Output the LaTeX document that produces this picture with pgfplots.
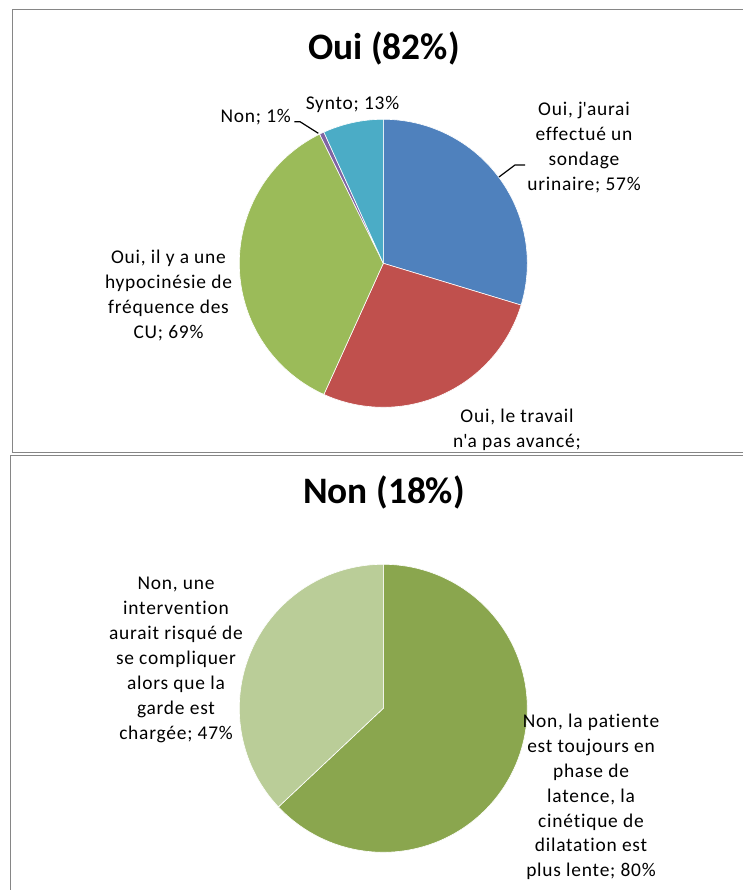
\documentclass[border=0pt]{standalone}
\usepackage{pgfplots}
\pgfplotsset{compat=1.18}
\usepackage{fontspec}
\setmainfont{Carlito}[Ligatures={NoCommon}]
\newfontfamily\lblfont{Carlito}[Ligatures={NoCommon}, LetterSpace=4]
\definecolor{cblue}{HTML}{4F81BD}
\definecolor{cred}{HTML}{C0504D}
\definecolor{cgreen}{HTML}{9BBB59}
\definecolor{cpurple}{HTML}{8064A2}
\definecolor{cteal}{HTML}{4BACC6}
\definecolor{cdkgreen}{HTML}{8AA64E}
\definecolor{cltgreen}{HTML}{BACD98}
\definecolor{bordergray}{RGB}{134,134,134}

% values (percent of respondents)
\def\VBlue{57}\def\VRed{52}\def\VGreen{69}\def\VPurple{1}\def\VTeal{13}
\def\VDark{80}\def\VLight{47}

% \slice{color}{cum start}{cum end}{total}
\newcommand{\slice}[4]{%
  \pgfmathsetmacro{\sa}{90-((#3)/(#4))*360}%
  \pgfmathsetmacro{\sb}{90-((#2)/(#4))*360}%
  \edef\doslice{\noexpand\addplot[fill=#1, draw=white, line width=0.6bp, domain=\sa:\sb, samples=120, variable=\noexpand\t] ({cos(\noexpand\t)},{sin(\noexpand\t)}) -- (0,0) -- cycle;}%
  \doslice
}
\newcommand{\lbl}{\lblfont\fontsize{19.5}{25}\selectfont}
\newcommand{\ttl}{\fontsize{37.5}{40}\selectfont\bfseries}

\begin{document}
\begin{tikzpicture}[x=1bp,y=1bp]
\useasboundingbox (0,0) rectangle (743,890);
\fill[white] (0,0) rectangle (743,890);
\begin{scope}
\clip (0,0) rectangle (743,890);
\draw[bordergray, line width=1bp] (800,437.5) -- (12.5,437.5) -- (12.5,880.7) -- (800,880.7);
\draw[bordergray, line width=1bp] (800,434.3) -- (10.5,434.3) -- (10.5,-10);
\end{scope}

% ---- top pie ----
\pgfmathsetmacro{\TotA}{\VBlue+\VRed+\VGreen+\VPurple+\VTeal}
\begin{axis}[at={(383.3bp,626.7bp)}, anchor=center, width=288bp, height=288bp,
  scale only axis, xmin=-1, xmax=1, ymin=-1, ymax=1, hide axis, clip=false]
\slice{cblue}{0}{\VBlue}{\TotA}
\slice{cred}{\VBlue}{\VBlue+\VRed}{\TotA}
\slice{cgreen}{\VBlue+\VRed}{\VBlue+\VRed+\VGreen}{\TotA}
\slice{cpurple}{\VBlue+\VRed+\VGreen}{\VBlue+\VRed+\VGreen+\VPurple}{\TotA}
\slice{cteal}{\VBlue+\VRed+\VGreen+\VPurple}{\TotA}{\TotA}
\end{axis}

\node[anchor=base, font=\ttl] at (384,830) {Oui (82\%)};
\node[align=center, font=\lbl] at (584,742.5) {Oui, j\textquotesingle aurai\\effectué un\\sondage\\urinaire; 57\%};
\node[align=center, font=\lbl] at (517,460) {Oui, le travail\\n\textquotesingle a pas avancé;};
\node[align=center, font=\lbl] at (168.5,594.5) {Oui, il y a une\\hypocinésie de\\fréquence des\\CU; 69\%};
\node[anchor=east, font=\lbl, inner sep=0pt] at (291,773) {Non; 1\%};
\node[font=\lbl] at (352.5,786) {Synto; 13\%};
\draw[black, line width=1.2bp] (499,713) -- (515,725) -- (525,725);
\draw[black, line width=1.2bp] (294.3,768.3) -- (300,768.3) -- (318.3,756.7);

% ---- bottom pie ----
\pgfmathsetmacro{\TotB}{\VDark+\VLight}
\begin{axis}[at={(383.3bp,181.7bp)}, anchor=center, width=288bp, height=288bp,
  scale only axis, xmin=-1, xmax=1, ymin=-1, ymax=1, hide axis, clip=false]
\slice{cdkgreen}{0}{\VDark}{\TotB}
\slice{cltgreen}{\VDark}{\TotB}{\TotB}
\end{axis}

\node[anchor=base, font=\ttl] at (384,386) {Non (18\%)};
\node[align=center, font=\lbl] at (176,230) {Non, une\\intervention\\aurait risqué de\\se compliquer\\alors que la\\garde est\\chargée; 47\%};
\node[align=center, font=\lbl] at (591,93) {Non, la patiente\\est toujours en\\phase de\\latence, la\\cinétique de\\dilatation est\\plus lente; 80\%};
\end{tikzpicture}
\end{document}
